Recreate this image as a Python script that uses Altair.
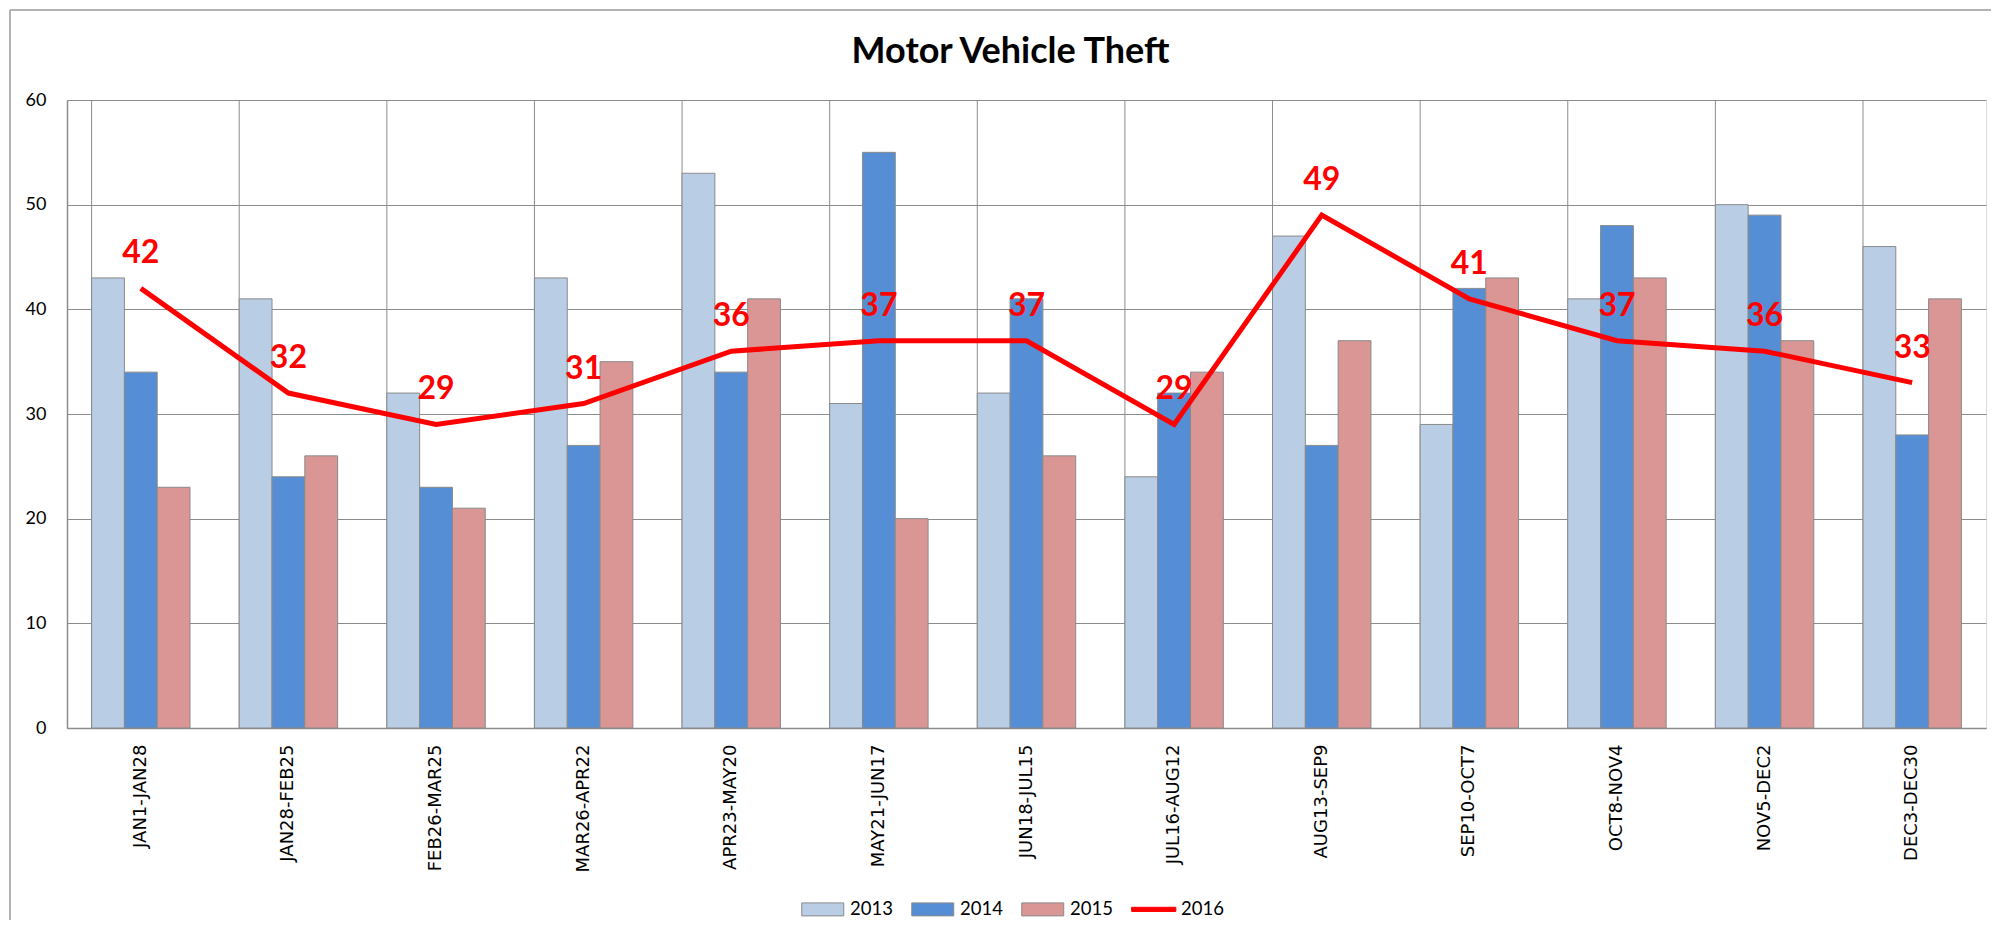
import altair as alt
import pandas as pd

categories = ["JAN1-JAN28", "JAN28-FEB25", "FEB26-MAR25", "MAR26-APR22", "APR23-MAY20",
              "MAY21-JUN17", "JUN18-JUL15", "JUL16-AUG12", "AUG13-SEP9", "SEP10-OCT7",
              "OCT8-NOV4", "NOV5-DEC2", "DEC3-DEC30"]
s2013 = [43, 41, 32, 43, 53, 31, 32, 24, 47, 29, 41, 50, 46]
s2014 = [34, 24, 23, 27, 34, 55, 41, 32, 27, 42, 48, 49, 28]
s2015 = [23, 26, 21, 35, 41, 20, 26, 34, 37, 43, 43, 37, 41]
s2016 = [42, 32, 29, 31, 36, 37, 37, 29, 49, 41, 37, 36, 33]
series_names = ["2013", "2014", "2015", "2016"]
series_colors = ["#B9CDE5", "#558ED5", "#D99694", "#FF0000"]
y_ticks = [0, 10, 20, 30, 40, 50, 60]

rows = []
for name, vals in zip(series_names[:3], [s2013, s2014, s2015]):
    for c, v in zip(categories, vals):
        rows.append({"cat": c, "series": name, "value": v})
bars_df = pd.DataFrame(rows)
line_df = pd.DataFrame({"cat": categories, "value": s2016})
cat_df = pd.DataFrame({"cat": categories})

GRID = "#8c8c8c"

xscale = alt.Scale(domain=categories, paddingInner=1/3, paddingOuter=1/6)
xaxis = alt.Axis(labelAngle=-90, labelAlign="right", labelBaseline="middle",
                 labelPadding=16, ticks=False, grid=False, domain=True,
                 domainColor=GRID, domainWidth=1.5, labelOverlap=False,
                 labelFont="DejaVu Sans", labelFontSize=18, labelColor="#000000",
                 title=None)

vgrid = alt.Chart(cat_df).mark_rule(color=GRID, strokeWidth=1).encode(
    x=alt.X("cat:N", scale=xscale, bandPosition=0, axis=xaxis, sort=categories, title=None)
)

bar_shape = "M-3.23,-1H3.23V1H-3.23Z"
line_shape = "M-3.4,-0.32H3.4V0.32H-3.4Z"

bars = alt.Chart(bars_df).mark_bar(stroke="#8a8a8a", strokeWidth=1).encode(
    x=alt.X("cat:N", scale=xscale, sort=categories, title=None, axis=xaxis),
    xOffset=alt.XOffset("series:N", scale=alt.Scale(paddingInner=0, paddingOuter=0)),
    y=alt.Y("value:Q", scale=alt.Scale(domain=[0, 60], nice=False), title=None,
            axis=alt.Axis(values=y_ticks, grid=True, gridColor=GRID, gridWidth=1,
                          ticks=False, domain=True, domainColor=GRID, domainWidth=1.5,
                          labelPadding=21, labelFont="Lato", labelFontSize=18,
                          labelColor="#000000")),
    color=alt.Color("series:N",
                    scale=alt.Scale(domain=series_names, range=series_colors),
                    legend=alt.Legend(
                        orient="none", legendX=746.5, legendY=800, direction="horizontal",
                        title=None,
                        symbolType={"expr": "datum.label === '2016' ? '" + line_shape + "' : '" + bar_shape + "'"},
                        symbolStrokeColor={"expr": "datum.label === '2016' ? '#ff0000' : '#8a8a8a'"},
                        symbolSize=169,
                        labelOffset=18, columnPadding=16, padding=0,
                        labelFont="Lato", labelFontSize=18.5, labelColor="#000000",
                        symbolStrokeWidth=1, symbolOpacity=1,
                    )),
)

line = alt.Chart(line_df).mark_line(color="#FF0000", strokeWidth=5).encode(
    x=alt.X("cat:N", scale=xscale, sort=categories),
    y=alt.Y("value:Q"),
)

labels = alt.Chart(line_df).mark_text(
    color="#FF0000", font="Lato", fontSize=32, fontWeight="bold",
    baseline="alphabetic", align="center", dy=-25
).encode(
    x=alt.X("cat:N", scale=xscale, sort=categories),
    y=alt.Y("value:Q"),
    text=alt.Text("value:Q"),
)

one = alt.Data(values=[{"a": 1}])
border_top = alt.Chart(one).mark_rule(color="#9a9a9a", strokeWidth=1.5).encode(
    x=alt.value(-57), x2=alt.value(1924), y=alt.value(-90)
)
border_left = alt.Chart(one).mark_rule(color="#9a9a9a", strokeWidth=1.5).encode(
    x=alt.value(-57), y=alt.value(-90), y2=alt.value(820)
)

chart = alt.layer(vgrid, bars, line, labels, border_top, border_left).properties(
    width=1919, height=628,
    padding={"left": 1, "top": 1, "right": 0, "bottom": 0},
    title=alt.TitleParams("Motor Vehicle Theft", font="Lato", fontSize=36,
                          fontWeight="bold", anchor="middle", dx=-16, offset=-62,
                          color="#000000"),
).configure_view(stroke=GRID, strokeWidth=1).configure(background="#ffffff")

chart.save("out.html", embed_options={"renderer": "svg", "actions": False})
